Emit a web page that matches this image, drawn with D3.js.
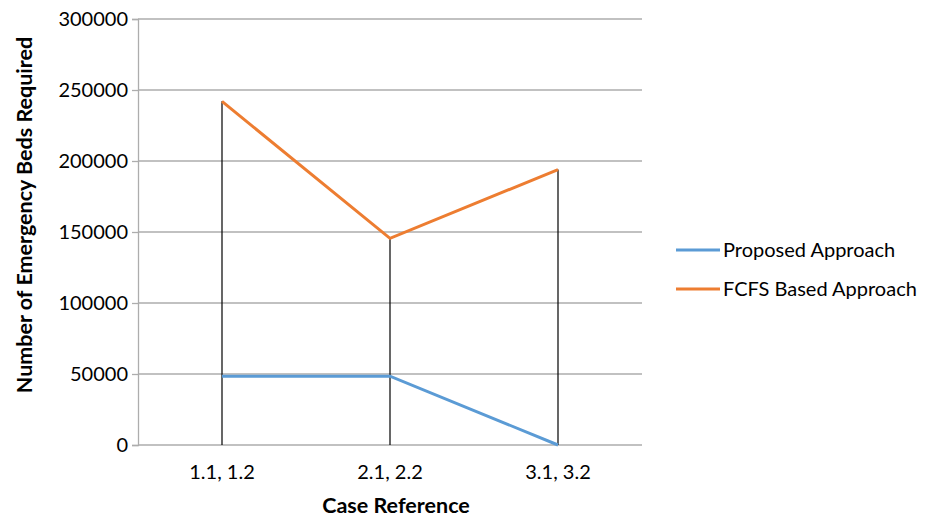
<!DOCTYPE html>
<html><head><meta charset="utf-8">
<script src="https://cdn.jsdelivr.net/npm/d3@7"></script>
<style>body{margin:0;background:#fff}svg{display:block}text{font-family:Lato,"Open Sans",sans-serif}</style>
</head><body>
<svg id="c" width="928" height="517"></svg>
<script>
const categories = ["1.1, 1.2", "2.1, 2.2", "3.1, 3.2"];
const proposed = [48500, 48500, 0];
const fcfs = [242000, 145500, 194000];
const yTicks = [0, 50000, 100000, 150000, 200000, 250000, 300000];
const seriesNames = ["Proposed Approach", "FCFS Based Approach"];
const colors = ["#5B9BD5", "#ED7D31"];

const svg = d3.select("#c");
const L = 138, R = 642, T = 19, B = 445;
const x = d3.scaleBand().domain(categories).range([L, R]);
const y = d3.scaleLinear().domain([0, 300000]).range([B, T]);
const cx = c => x(c) + x.bandwidth() / 2;

// gridlines
svg.append("g").selectAll("line").data(yTicks).join("line")
  .attr("x1", L).attr("x2", R).attr("y1", d => y(d)).attr("y2", d => y(d))
  .attr("stroke", "#ADADAD").attr("stroke-width", 1.3);

// y axis
const ya = svg.append("g").attr("transform", `translate(${L},0)`)
  .call(d3.axisLeft(y).tickValues(yTicks).tickSize(6).tickPadding(4).tickFormat(d3.format("d")));
ya.select(".domain").attr("stroke", "#ADADAD").attr("stroke-width", 1.3);
ya.selectAll(".tick line").attr("stroke", "#ADADAD").attr("stroke-width", 1.3);
ya.selectAll(".tick text").attr("font-size", 20).attr("fill", "#000").attr("font-family", "Lato");

// x axis labels
const xa = svg.append("g").attr("transform", `translate(0,${B})`)
  .call(d3.axisBottom(x).tickSize(0).tickPadding(20));
xa.select(".domain").remove();
xa.selectAll(".tick text").attr("font-size", 20).attr("fill", "#000").attr("font-family", "Lato");

// drop lines
svg.append("g").selectAll("line").data(categories).join("line")
  .attr("x1", d => cx(d)).attr("x2", d => cx(d))
  .attr("y1", (d, i) => y(Math.max(proposed[i], fcfs[i]))).attr("y2", y(0))
  .attr("stroke", "#000").attr("stroke-width", 1.2);

// series lines
const line = d3.line().x((d, i) => cx(categories[i])).y(d => y(d));
[proposed, fcfs].forEach((s, k) => {
  svg.append("path").datum(s).attr("d", line).attr("fill", "none")
    .attr("stroke", colors[k]).attr("stroke-width", 3);
});

// axis titles
svg.append("text").attr("x", 396).attr("y", 513).attr("text-anchor", "middle")
  .attr("font-size", 21.5).attr("font-weight", "bold").text("Case Reference");
svg.append("text").attr("transform", "translate(32,215) rotate(-90)").attr("text-anchor", "middle")
  .attr("font-size", 21.5).attr("font-weight", "bold").text("Number of Emergency Beds Required");

// legend
const lg = svg.append("g");
seriesNames.forEach((n, k) => {
  const yy = 250 + k * 39;
  lg.append("line").attr("x1", 676).attr("x2", 720).attr("y1", yy).attr("y2", yy)
    .attr("stroke", colors[k]).attr("stroke-width", 3);
  lg.append("text").attr("x", 723).attr("y", yy + 7).attr("font-size", 20).text(n);
});
</script>
</body></html>
